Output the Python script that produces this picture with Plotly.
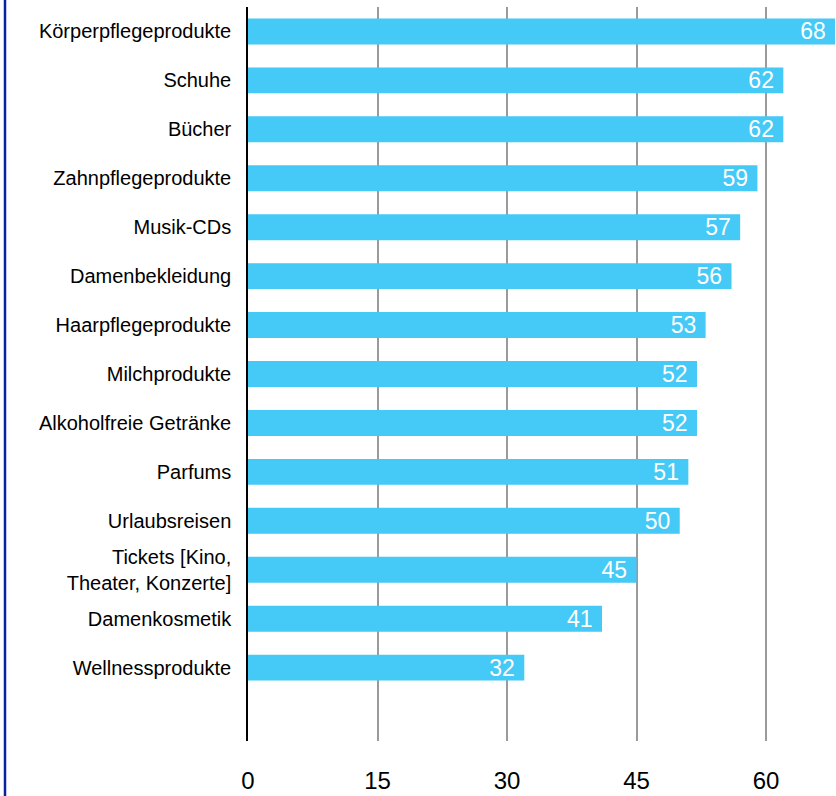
import plotly.graph_objects as go

kategorien = [
    "Körperpflegeprodukte",
    "Schuhe",
    "Bücher",
    "Zahnpflegeprodukte",
    "Musik-CDs",
    "Damenbekleidung",
    "Haarpflegeprodukte",
    "Milchprodukte",
    "Alkoholfreie Getränke",
    "Parfums",
    "Urlaubsreisen",
    "Tickets [Kino,<br>Theater, Konzerte]",
    "Damenkosmetik",
    "Wellnessprodukte",
]
werte = [68, 62, 62, 59, 57, 56, 53, 52, 52, 51, 50, 45, 41, 32]
x_ticks = [0, 15, 30, 45, 60]

fig = go.Figure()

fig.add_trace(go.Bar(
    x=werte,
    y=kategorien,
    orientation='h',
    marker_color='#45C9F6',
    marker_line_width=0,
    width=0.53,
    text=werte,
    texttemplate='%{text}\u00a0',
    textposition='inside',
    insidetextanchor='end',
    constraintext='none',
    insidetextfont=dict(color='white', size=23, family='Liberation Sans, Arial'),
    hovertemplate='%{y}: %{x}<extra></extra>',
))

fig.update_layout(
    width=836,
    height=796,
    margin=dict(l=248, r=0, t=7, b=55),
    plot_bgcolor='white',
    paper_bgcolor='white',
    showlegend=False,
    font=dict(family='Liberation Sans, Arial', color='black'),
    xaxis=dict(
        range=[0, 68.1],
        tickvals=x_ticks,
        showgrid=True,
        gridcolor='#9a9a9a',
        gridwidth=1.5,
        zeroline=False,
        showline=False,
        tickfont=dict(size=24),
        ticklabelstandoff=23,
        fixedrange=True,
    ),
    yaxis=dict(
        categoryorder='array',
        categoryarray=kategorien,
        range=[14.5, -0.5],
        showgrid=False,
        showline=True,
        linecolor='black',
        linewidth=1.5,
        tickfont=dict(size=20),
        ticklabelstandoff=11,
        fixedrange=True,
    ),
)

# blauer Rand links
fig.add_shape(type='line', xref='paper', yref='paper',
              x0=-243 / 588, x1=-243 / 588,
              y0=-55 / 734, y1=1 + 7 / 734,
              line=dict(color='#0A22A0', width=2.5))

fig.write_html(
    "out.html",
    config={'displayModeBar': False},
    post_script="document.body.style.margin='0';document.body.style.overflow='hidden';",
)
